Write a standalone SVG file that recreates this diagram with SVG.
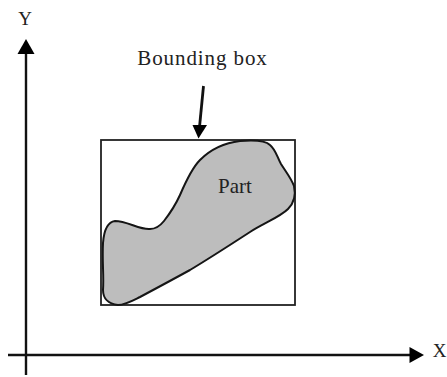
<svg xmlns="http://www.w3.org/2000/svg" width="447" height="377" viewBox="0 0 447 377">
<style>
.ax{fill:none;stroke:#111;stroke-width:2.4}
.hd{fill:#000}
.t{font-family:"Liberation Serif","DejaVu Serif",serif;fill:#222}
</style>
<rect width="447" height="377" fill="#fff"/>
<g id="connectors">
<path class="ax" d="M26 375V50"/>
<path class="hd" d="M26 39L34.500 54H17.500Z"/>
<path class="ax" d="M8 355H412"/>
<path class="hd" d="M424 355L409.500 347V363Z"/>
<path class="ax" d="M203.500 86L199.500 127" style="stroke-width:2.800"/>
<path class="hd" d="M198.500 138.500L207 125H192.500Z"/>
</g>
<g id="bounding-box">
<rect x="101" y="140" width="194" height="165" fill="none" stroke="#222" stroke-width="1.800"/>
</g>
<g id="part">
<path d="M118 305C108 304 103 298 103 290C104 275 102 262 103 243C104 230 107 222 115 221C127 221 140 230 150 229C156 229 160 226 164 221C171 212 175 206 180 195C186 181 192 168 200 160C210 150 223 143 240 141C252 140 265 140 270 145C276 150 277 157 281 164C286 172 291 178 294 186C296 195 294 203 288 209C280 217 264 223 250 232C230 245 210 258 190 270C170 281 155 289 140 297C132 301 125 305 118 305Z" fill="#bdbdbd" stroke="#151515" stroke-width="2"/>
<text class="t" x="235" y="193" font-size="21" text-anchor="middle">Part</text>
</g>
<g id="label-bounding-box"><text class="t" x="202.500" y="65" font-size="21" letter-spacing="0.900" text-anchor="middle">Bounding box</text></g>
<g id="label-y"><text class="t" x="25" y="25" font-size="19" text-anchor="middle">Y</text></g>
<g id="label-x"><text class="t" x="439.500" y="357" font-size="19" text-anchor="middle">X</text></g>
</svg>
